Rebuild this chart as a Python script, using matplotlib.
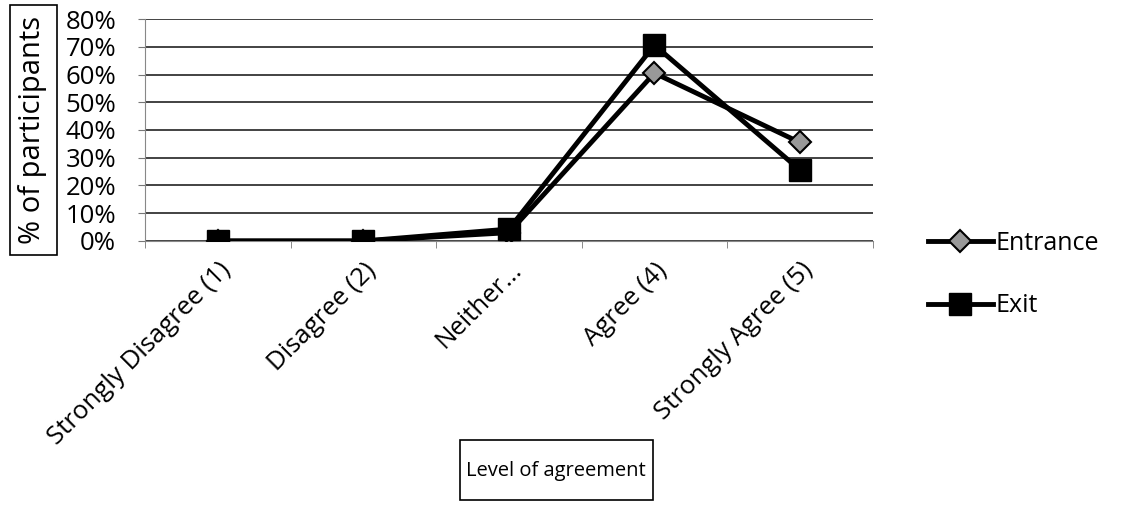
import matplotlib.pyplot as plt
from matplotlib.patches import Rectangle
from matplotlib.ticker import PercentFormatter

categories = ['Strongly Disagree (1)', 'Disagree (2)', 'Neither...', 'Agree (4)', 'Strongly Agree (5)']
entrance = [0.0, 0.0, 0.03, 0.605, 0.355]
exit_vals = [0.0, 0.0, 0.043, 0.706, 0.256]
yticks = [0, 0.1, 0.2, 0.3, 0.4, 0.5, 0.6, 0.7, 0.8]

plt.rcParams['font.family'] = ['Open Sans', 'DejaVu Sans']

W, H = 1126, 528
fig = plt.figure(figsize=(W / 100, H / 100), dpi=100)
ax = fig.add_axes([0.129, 0.5436, 0.646, 0.4204])

x = list(range(len(categories)))
ax.plot(x, entrance, color='black', lw=3.5, marker='D', markersize=11,
        markerfacecolor='#999999', markeredgecolor='black', markeredgewidth=1.5,
        label='Entrance', zorder=3)
ax.plot(x, exit_vals, color='black', lw=3.5, marker='s', markersize=16,
        markerfacecolor='black', markeredgecolor='black',
        label='Exit', zorder=4)

ax.set_xlim(-0.5, len(categories) - 0.5)
ax.set_ylim(0, 0.8)
ax.set_yticks(yticks)
ax.yaxis.set_major_formatter(PercentFormatter(1.0, decimals=0))
ax.grid(axis='y', color='#222222', lw=1.2)
ax.set_axisbelow(True)

# category labels under the centres, tick marks between categories
ax.set_xticks(x)
ax.set_xticklabels(categories, rotation=45, ha='right', rotation_mode='anchor', fontsize=18.5)
ax.set_xticks([i - 0.5 for i in range(len(categories) + 1)], minor=True)
ax.tick_params(axis='x', which='major', length=0, pad=12)
ax.tick_params(axis='x', which='minor', length=5, color='#777777')
ax.tick_params(axis='y', length=5, color='#777777', labelsize=18.5, pad=16)

for side in ['top', 'right']:
    ax.spines[side].set_visible(False)
ax.spines['left'].set_color('#888888')
ax.spines['bottom'].set_color('#888888')

# boxed axis titles
fig.text(33 / W, 1 - 130 / H, '% of participants', fontsize=21, rotation=90,
         ha='center', va='center')
fig.patches.append(Rectangle((10 / W, 1 - 255 / H), 47 / W, 250 / H, fill=False,
                             edgecolor='black', lw=1.2, transform=fig.transFigure))
fig.text(556 / W, 1 - 471 / H, 'Level of agreement', fontsize=14.5, ha='center', va='center')
fig.patches.append(Rectangle((460 / W, 1 - 500 / H), 193 / W, 60 / H, fill=False,
                             edgecolor='black', lw=1.2, transform=fig.transFigure))

fig.legend(loc='center left', bbox_to_anchor=(0.804, 0.48), frameon=False,
           fontsize=18, handlelength=2.6, handletextpad=0.1, labelspacing=1.5)

fig.savefig('out.png', dpi=100)
